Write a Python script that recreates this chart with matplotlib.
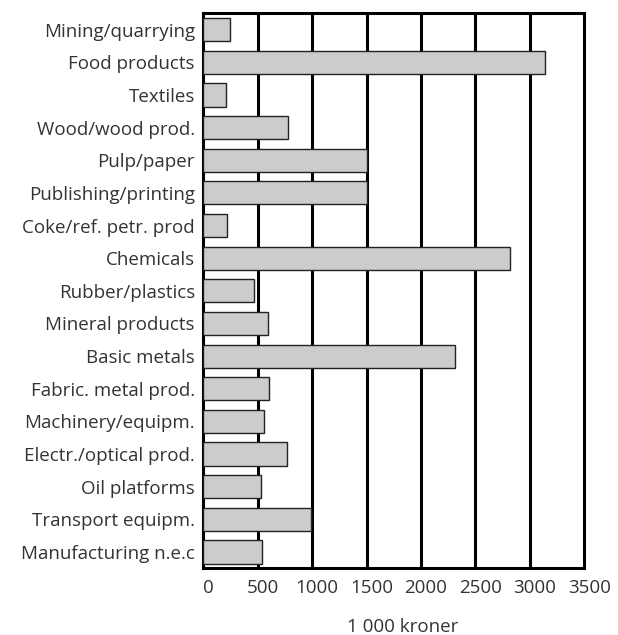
import matplotlib.pyplot as plt
import matplotlib.transforms as mtransforms

plt.rcParams["font.family"] = ["Open Sans", "DejaVu Sans"]

categories = [
    "Mining/quarrying",
    "Food products",
    "Textiles",
    "Wood/wood prod.",
    "Pulp/paper",
    "Publishing/printing",
    "Coke/ref. petr. prod",
    "Chemicals",
    "Rubber/plastics",
    "Mineral products",
    "Basic metals",
    "Fabric. metal prod.",
    "Machinery/equipm.",
    "Electr./optical prod.",
    "Oil platforms",
    "Transport equipm.",
    "Manufacturing n.e.c",
]
values = [245, 3137, 206, 780, 1500, 1506, 215, 2815, 466, 598, 2316,
          600, 556, 772, 527, 988, 543]
xticks = [0, 500, 1000, 1500, 2000, 2500, 3000, 3500]

fs = 13.5
fig = plt.figure(figsize=(6.18, 6.35), dpi=100)
ax = fig.add_axes([203.3 / 618, 1 - 568.3 / 635, 381 / 618, 555 / 635])

ypos = list(range(len(categories)))
ax.barh(ypos, values, height=0.71, color="#cccccc", edgecolor="#222222",
        linewidth=1.0, zorder=3)

ax.set_xlim(0, 3500)
ax.set_ylim(len(categories) - 0.5, -0.5)
ax.set_yticks(ypos)
ax.set_yticklabels(categories, fontsize=fs, color="#333333")
ax.set_xticks(xticks)
ax.set_xticklabels([str(t) for t in xticks], fontsize=fs, color="#333333")
ax.tick_params(axis="both", length=0)
ax.tick_params(axis="y", pad=6)
ax.tick_params(axis="x", pad=8)

offset = mtransforms.ScaledTranslation(5 / 100, 0, fig.dpi_scale_trans)
for lab in ax.get_xticklabels():
    lab.set_transform(lab.get_transform() + offset)

for t in xticks[1:-1]:
    ax.axvline(t, color="black", linewidth=2.2, zorder=1)

for sp in ax.spines.values():
    sp.set_linewidth(2.2)
    sp.set_color("black")

fig.text(403 / 618, 1 - 627 / 635, "1 000 kroner", ha="center", va="center",
         fontsize=fs, color="#333333")

fig.savefig("out.png", dpi=100)
